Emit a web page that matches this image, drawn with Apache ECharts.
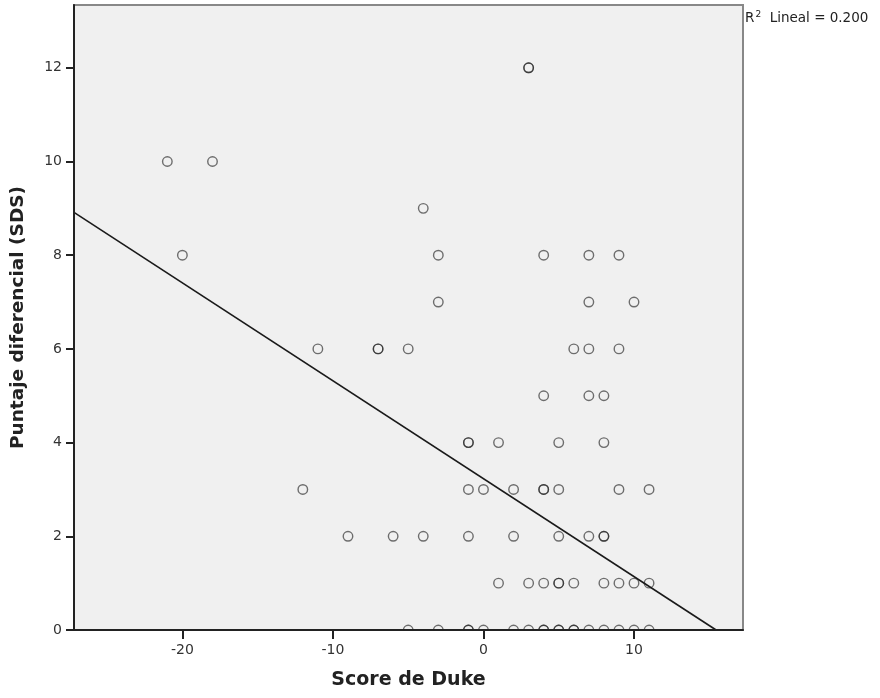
<!DOCTYPE html>
<html>
<head>
<meta charset="utf-8">
<script src="https://cdn.jsdelivr.net/npm/echarts@6/dist/echarts.min.js"></script>
<style>html,body{margin:0;padding:0;background:#fff}#c{width:880px;height:698px}</style>
</head>
<body>
<div id="c"></div>
<script>
// Score de Duke (x) values and Puntaje diferencial (SDS) (y) values, paired by index
const dukeScores = [
  3, 3,
  -21, -18,
  -4,
  -20, -3, 4, 7, 9,
  -3, 7, 10,
  -11, -7, -7, -5, 6, 7, 9,
  4, 7, 8,
  -1, -1, 1, 5, 8,
  -12, -1, 0, 2, 4, 4, 5, 9, 11,
  -9, -6, -4, -1, 2, 5, 7, 8, 8,
  1, 3, 4, 5, 5, 6, 8, 9, 10, 11,
  -5, -3, -1, -1, 0, 2, 3, 4, 4, 5, 5, 6, 6, 7, 8, 9, 10, 11
];
const sdsScores = [
  12, 12,
  10, 10,
  9,
  8, 8, 8, 8, 8,
  7, 7, 7,
  6, 6, 6, 6, 6, 6, 6,
  5, 5, 5,
  4, 4, 4, 4, 4,
  3, 3, 3, 3, 3, 3, 3, 3, 3,
  2, 2, 2, 2, 2, 2, 2, 2, 2,
  1, 1, 1, 1, 1, 1, 1, 1, 1, 1,
  0, 0, 0, 0, 0, 0, 0, 0, 0, 0, 0, 0, 0, 0, 0, 0, 0, 0
];
// Linear fit (R^2 = 0.200)
const fitIntercept = 3.23;
const fitSlope = -0.209;
const rSquaredValue = '0.200';
const xTickValues = [-20, -10, 0, 10];
const yTickValues = [0, 2, 4, 6, 8, 10, 12];
const xRange = [-27.2, 17.24];
const yRange = [0, 13.34];

const points = dukeScores.map((x, i) => [x, sdsScores[i]]);
const fitEnd = -fitIntercept / fitSlope;
const fitLine = [[xRange[0], fitIntercept + fitSlope * xRange[0]], [fitEnd, 0]];

const FONT = 'DejaVu Sans';
const chart = echarts.init(document.getElementById('c'), null, {renderer: 'canvas'});
chart.setOption({
  animation: false,
  backgroundColor: '#ffffff',
  grid: {left: 74, top: 5, right: 137, bottom: 68, show: true, backgroundColor: '#f0f0f0', borderColor: '#888888', borderWidth: 2},
  xAxis: {
    type: 'value', min: xRange[0], max: xRange[1], z: 10,
    name: 'Score de Duke', nameLocation: 'middle', nameGap: 41,
    nameTextStyle: {fontFamily: FONT, fontWeight: 'bold', fontSize: 19, color: '#222'},
    axisLine: {show: true, onZero: false, lineStyle: {color: '#222', width: 2}},
    axisTick: {show: true, length: 9, customValues: xTickValues, lineStyle: {color: '#222', width: 2}},
    axisLabel: {customValues: xTickValues, margin: 13, fontFamily: FONT, fontSize: 14, color: '#333'},
    splitLine: {show: false}
  },
  yAxis: {
    type: 'value', min: yRange[0], max: yRange[1], z: 10,
    name: 'Puntaje diferencial (SDS)', nameLocation: 'middle', nameGap: 46,
    nameTextStyle: {fontFamily: FONT, fontWeight: 'bold', fontSize: 18.5, color: '#222', padding: [0, 0, 0, 0]},
    axisLine: {show: true, onZero: false, lineStyle: {color: '#222', width: 2}},
    axisTick: {show: true, length: 8, customValues: yTickValues, lineStyle: {color: '#222', width: 2}},
    axisLabel: {customValues: yTickValues, margin: 12, fontFamily: FONT, fontSize: 14, color: '#333'},
    splitLine: {show: false}
  },
  graphic: [
    {type: 'rect', z: 5, shape: {x: 75, y: 631, width: 667, height: 20}, style: {fill: '#ffffff'}},
    {type: 'text', left: 745, top: 10, style: {
      text: '{r|R}{s|2}{r|  Lineal = ' + rSquaredValue + '}',
      rich: {
        r: {fontFamily: FONT, fontSize: 13.5, fill: '#222', verticalAlign: 'bottom'},
        s: {fontFamily: FONT, fontSize: 9, fill: '#222', verticalAlign: 'top', padding: [0, 0, 6, 1]}
      }
    }}
  ],
  series: [
    {
      type: 'scatter', data: points, symbol: 'circle', symbolSize: 9.5,
      itemStyle: {color: 'rgba(0,0,0,0)', borderColor: 'rgba(35,35,35,0.8)', borderWidth: 1.4}
    },
    {
      type: 'line', data: fitLine, symbol: 'none', z: 3,
      lineStyle: {color: '#1a1a1a', width: 1.6}
    }
  ]
});
</script>
</body>
</html>
